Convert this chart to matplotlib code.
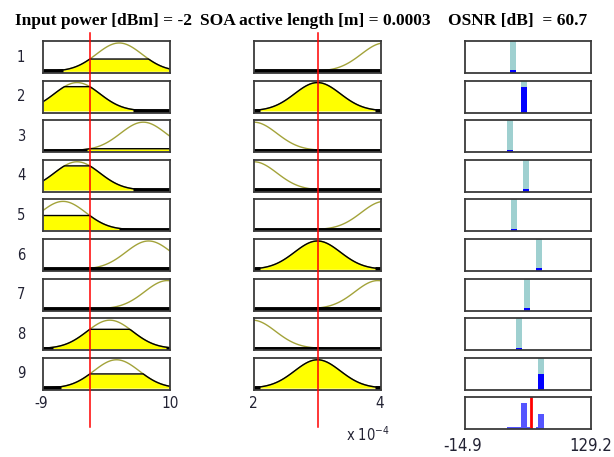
import numpy as np
import matplotlib
matplotlib.use('Agg')
import matplotlib.pyplot as plt
from matplotlib import transforms

# crisp values shown in the viewer headings
power_value = -2
length_value = 3e-4
osnr_value = 60.7

power_range = (-9, 10)
length_range = (2e-4, 4e-4)
osnr_range = (-14.9, 129.2)

# gaussian membership functions, one per rule
power_centers = [2.4, -3.9, 6.0, -3.9, -6.0, 6.8, 9.6, 1.0, 2.0]
power_sigma = 3.4
length_centers = [4.05e-4, 3.0e-4, 2.0e-4, 2.0e-4, 4.05e-4, 3.0e-4, 3.95e-4, 1.98e-4, 3.0e-4]
length_sigma = 0.36e-4

# rule outputs (OSNR, dB)
rule_outputs = [40.0, 52.2, 36.9, 54.5, 41.1, 70.1, 55.7, 46.5, 71.7]

rule_labels = ['1', '2', '3', '4', '5', '6', '7', '8', '9']

W, H = 614, 457
fig = plt.figure(figsize=(W / 100, H / 100), dpi=100)

YLIM = (-0.06, 1.07)
YELLOW = '#ffff00'
OLIVE = '#a3a33a'
TEAL = '#9fd0d0'
FRAME = '#3a3a3a'
SANS = dict(family='DejaVu Sans', fontstretch='condensed', color='#222233')


def gauss(x, c, s):
    return np.exp(-(x - c) ** 2 / (2 * s ** 2))


def add_box(left, top, width, height):
    ax = fig.add_axes([left / W, 1 - (top + height) / H, width / W, height / H])
    ax.set_xticks([])
    ax.set_yticks([])
    for sp in ax.spines.values():
        sp.set_color(FRAME)
        sp.set_linewidth(1.3)
    ax.set_ylim(*YLIM)
    return ax


def draw_mf(ax, lo, hi, c, s, value):
    x = np.linspace(lo, hi, 101)
    mf = gauss(x, c, s)
    deg = gauss(value, c, s)
    clip = np.minimum(mf, deg)
    ax.fill_between(x, 0, clip, color=YELLOW, lw=0)
    ax.plot(x, mf, color=OLIVE, lw=1)
    ax.plot(x, clip, color='black', lw=1)
    ax.plot(x, np.where(clip < 0.05, 0, np.nan), color='black', lw=3.5,
            solid_capstyle='butt')
    ax.set_xlim(lo, hi)
    return deg


col_x = [43, 254, 465]
col_w = [127, 127, 126]
row_top0, row_pitch, row_h = 41, 39.6, 32

firing = []
power_axes, length_axes, out_axes = [], [], []
for i in range(9):
    top = row_top0 + i * row_pitch
    a1 = add_box(col_x[0], top, col_w[0], row_h)
    m1 = draw_mf(a1, *power_range, power_centers[i], power_sigma, power_value)
    a2 = add_box(col_x[1], top, col_w[1], row_h)
    m2 = draw_mf(a2, *length_range, length_centers[i], length_sigma, length_value)
    w = m1 * m2
    firing.append(w)
    a3 = add_box(col_x[2], top, col_w[2], row_h)
    a3.set_xlim(*osnr_range)
    bw = 6.9
    a3.bar(rule_outputs[i], YLIM[1] - YLIM[0], bottom=YLIM[0], width=bw,
           color=TEAL, lw=0)
    a3.bar(rule_outputs[i], max(w, 0.03) + 0.06, bottom=YLIM[0], width=bw,
           color='#0000ff', lw=0)
    power_axes.append(a1)
    length_axes.append(a2)
    out_axes.append(a3)
    fig.text(21 / W, 1 - (top + row_h / 2) / H, rule_labels[i], ha='center',
             va='center', fontsize=10.5, **SANS)

# aggregated output
top = row_top0 + 9 * row_pitch
agg = add_box(col_x[2], top, col_w[2], row_h)
agg.set_xlim(*osnr_range)
for i in range(9):
    agg.bar(rule_outputs[i], max(firing[i], 0.03) + 0.06, bottom=YLIM[0],
            width=6.9, color='#5555ff', lw=0)
agg.axvline(osnr_value, color='#ff0000', lw=2)

# red input lines running across every rule row
y0, y1 = 1 - 33 / H, 1 - 427 / H
for ax, v in [(power_axes[0], power_value), (length_axes[0], length_value)]:
    tr = transforms.blended_transform_factory(ax.transData, fig.transFigure)
    fig.add_artist(plt.Line2D([v, v], [y0, y1], transform=tr, color='#ff0000',
                              lw=1.1))

# headings
ty = 1 - 25 / H
serif = dict(fontsize=12.5, fontweight='bold', family='Liberation Serif',
             va='baseline')
fig.text(15 / W, ty, 'Input power [dBm] = %g' % power_value, **serif)
fig.text(200 / W, ty, 'SOA active length [m] = %.4f' % length_value, **serif)
fig.text(448 / W, ty, 'OSNR [dB]  = %.1f' % osnr_value, **serif)

# range labels
lab_y = 1 - 404 / H
for x, s in [(41.5, '-9'), (170, '10'), (253, '2'), (380, '4')]:
    fig.text(x / W, lab_y, s, ha='center', va='center', fontsize=11, **SANS)
fig.text(463 / W, 1 - 446 / H, '-14.9', ha='center', va='center', fontsize=12,
         **SANS)
fig.text(591 / W, 1 - 446 / H, '129.2', ha='center', va='center', fontsize=12,
         **SANS)
fig.text(346 / W, 1 - 441 / H, r'x 10$^{\mathregular{-4}}$', ha='left',
         va='baseline', fontsize=10.5, **SANS)

fig.savefig('out.png', dpi=100)
